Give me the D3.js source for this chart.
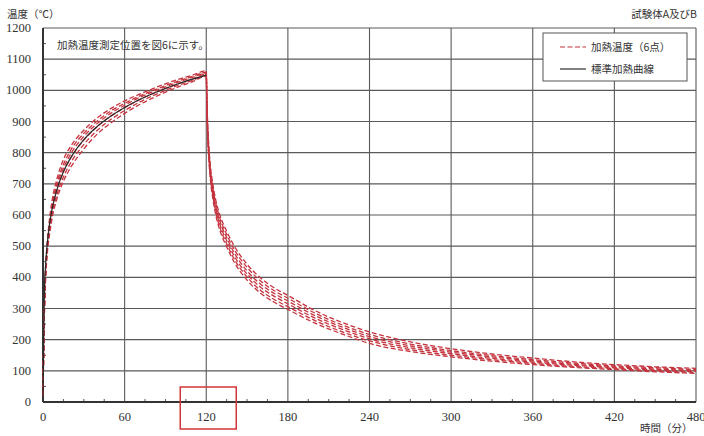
<!DOCTYPE html>
<html>
<head>
<meta charset="utf-8">
<script src="https://cdn.jsdelivr.net/npm/d3@7"></script>
<style>
  body { margin: 0; background: #fff; }
  svg { display: block; }
  .tick-lbl { font-family: "Liberation Serif", "DejaVu Serif", serif; font-size: 12.5px; fill: #333; }
  .jp { font-family: "Noto Sans CJK JP", sans-serif; font-size: 10.5px; fill: #333; }
</style>
</head>
<body>
<div id="chart"></div>
<script>
// time axis (minutes) for the standard curve and for the heating part of the measured curves
var heatTimes = [0, 1, 2, 3, 5, 7, 10, 15, 20, 30, 40, 50, 60, 70, 80, 90, 100, 110, 120];
// cooling part of the measured curves
var coolTimes = [120.5, 121, 122, 123, 125, 127, 130, 135, 140, 150, 160, 170, 180, 200, 220, 240, 270, 300, 330, 360, 390, 420, 450, 480];

// 標準加熱曲線
var standardCurve = [20, 349, 445, 502, 576, 626, 678, 739, 781, 842, 885, 918, 945, 968, 988, 1006, 1022, 1036, 1049];

// 加熱温度（6点）: heating values then cooling values
var measured = [
  { heat: [20, 310, 440, 505, 595, 655, 712, 778, 818, 872, 912, 942, 966, 986, 1004, 1021, 1036, 1049, 1063],
    cool: [975, 900, 815, 760, 695, 648, 600, 548, 505, 442, 398, 366, 342, 293, 255, 225, 193, 171, 154, 141, 129, 120, 113, 108] },
  { heat: [20, 300, 430, 498, 585, 640, 698, 762, 805, 862, 902, 934, 958, 980, 998, 1015, 1031, 1045, 1058],
    cool: [965, 890, 805, 750, 685, 638, 590, 538, 494, 432, 388, 357, 333, 285, 247, 217, 186, 165, 149, 136, 125, 116, 110, 104] },
  { heat: [20, 295, 425, 492, 578, 632, 688, 750, 793, 852, 894, 927, 952, 975, 994, 1011, 1027, 1042, 1055],
    cool: [955, 880, 795, 740, 675, 628, 580, 528, 483, 421, 378, 348, 324, 277, 240, 210, 180, 160, 145, 132, 121, 113, 106, 101] },
  { heat: [20, 290, 418, 485, 568, 622, 676, 738, 780, 840, 884, 918, 944, 968, 988, 1006, 1022, 1037, 1052],
    cool: [945, 870, 787, 732, 666, 619, 570, 518, 473, 411, 368, 339, 315, 269, 233, 203, 174, 155, 140, 128, 118, 110, 103, 98] },
  { heat: [20, 285, 410, 478, 555, 610, 662, 722, 765, 826, 872, 907, 935, 960, 981, 1000, 1017, 1032, 1048],
    cool: [935, 862, 780, 724, 658, 610, 561, 508, 463, 401, 358, 329, 306, 261, 225, 196, 168, 150, 136, 124, 114, 107, 100, 95] },
  { heat: [20, 278, 400, 468, 542, 597, 648, 708, 750, 812, 860, 896, 926, 952, 974, 994, 1012, 1028, 1045],
    cool: [925, 852, 770, 715, 648, 600, 551, 498, 453, 391, 349, 320, 297, 253, 218, 188, 162, 145, 131, 120, 111, 104, 97, 92] }
];

var xTicks = [0, 60, 120, 180, 240, 300, 360, 420, 480];
var yTicks = [0, 100, 200, 300, 400, 500, 600, 700, 800, 900, 1000, 1100, 1200];

var svgWidth = 704, svgHeight = 436;
var margin = { top: 28, right: 8, bottom: 34, left: 43 };

var svg = d3.select("#chart").append("svg")
  .attr("width", svgWidth)
  .attr("height", svgHeight);

var xScale = d3.scaleLinear().domain([0, 480]).range([margin.left, svgWidth - margin.right]);
var yScale = d3.scaleLinear().domain([0, 1200]).range([svgHeight - margin.bottom, margin.top]);

var gridColor = "#5a5a5a";

// grid
svg.append("g").selectAll("line.h")
  .data(yTicks.slice(1))
  .enter().append("line")
  .attr("x1", xScale(0)).attr("x2", xScale(480))
  .attr("y1", d => yScale(d)).attr("y2", d => yScale(d))
  .attr("stroke", gridColor).attr("stroke-width", 1.1);

svg.append("g").selectAll("line.v")
  .data(xTicks.slice(1))
  .enter().append("line")
  .attr("x1", d => xScale(d)).attr("x2", d => xScale(d))
  .attr("y1", yScale(0)).attr("y2", yScale(1200))
  .attr("stroke", gridColor).attr("stroke-width", 1.1);

// minor ticks
svg.append("g").selectAll("line")
  .data(d3.range(15, 480, 15).filter(d => d % 60 !== 0))
  .enter().append("line")
  .attr("x1", d => xScale(d)).attr("x2", d => xScale(d))
  .attr("y1", yScale(0)).attr("y2", yScale(0) - 3)
  .attr("stroke", "#555");
svg.append("g").selectAll("line")
  .data(d3.range(50, 1200, 100))
  .enter().append("line")
  .attr("x1", xScale(0)).attr("x2", xScale(0) + 3)
  .attr("y1", d => yScale(d)).attr("y2", d => yScale(d))
  .attr("stroke", "#555");

// frame
svg.append("line")
  .attr("x1", xScale(0)).attr("x2", xScale(0))
  .attr("y1", yScale(0)).attr("y2", yScale(1200))
  .attr("stroke", "#333").attr("stroke-width", 2);
svg.append("line")
  .attr("x1", xScale(0)).attr("x2", xScale(480))
  .attr("y1", yScale(0)).attr("y2", yScale(0))
  .attr("stroke", "#333").attr("stroke-width", 2);

// tick labels
svg.append("g").selectAll("text")
  .data(yTicks)
  .enter().append("text")
  .attr("class", "tick-lbl")
  .attr("x", 31)
  .attr("y", d => yScale(d) + 4)
  .attr("text-anchor", "end")
  .text(d => d);

svg.append("g").selectAll("text")
  .data(xTicks)
  .enter().append("text")
  .attr("class", "tick-lbl")
  .attr("x", d => xScale(d))
  .attr("y", 421)
  .attr("text-anchor", "middle")
  .text(d => d);

var line = d3.line()
  .x(d => xScale(d[0]))
  .y(d => yScale(d[1]))
  .curve(d3.curveMonotoneX);

// measured curves
measured.forEach(s => {
  var pts = heatTimes.map((t, i) => [t, s.heat[i]])
    .concat(coolTimes.map((t, i) => [t, s.cool[i]]));
  svg.append("path")
    .datum(pts)
    .attr("d", line)
    .attr("fill", "none")
    .attr("stroke", "#c4343e")
    .attr("stroke-width", 1.3)
    .attr("stroke-dasharray", "5,2.5");
});

// standard curve
svg.append("path")
  .datum(heatTimes.map((t, i) => [t, standardCurve[i]]))
  .attr("d", line)
  .attr("fill", "none")
  .attr("stroke", "#2a2a2a")
  .attr("stroke-width", 1.2);

// legend
var legend = svg.append("g");
legend.append("rect")
  .attr("x", 543).attr("y", 33)
  .attr("width", 144).attr("height", 48)
  .attr("fill", "#fff").attr("stroke", "#555").attr("stroke-width", 1);
legend.append("line")
  .attr("x1", 560).attr("x2", 586).attr("y1", 47).attr("y2", 47)
  .attr("stroke", "#c4343e").attr("stroke-width", 1.2).attr("stroke-dasharray", "5,2.5");
legend.append("text").attr("class", "jp")
  .attr("x", 591).attr("y", 51).text("加熱温度（6点）");
legend.append("line")
  .attr("x1", 560).attr("x2", 586).attr("y1", 69).attr("y2", 69)
  .attr("stroke", "#2a2a2a").attr("stroke-width", 1.2);
legend.append("text").attr("class", "jp")
  .attr("x", 591).attr("y", 73).text("標準加熱曲線");

// texts
svg.append("text").attr("class", "jp")
  .attr("x", 57).attr("y", 49).text("加熱温度測定位置を図6に示す。");
svg.append("text").attr("class", "jp")
  .attr("x", 7).attr("y", 18).text("温度（℃）");
svg.append("text").attr("class", "jp")
  .attr("x", 697).attr("y", 18).attr("text-anchor", "end").text("試験体A及びB");
svg.append("text").attr("class", "jp")
  .attr("x", 640).attr("y", 432).text("時間（分）");

// red highlight box around 120
svg.append("rect")
  .attr("x", xScale(120) - 26).attr("y", 387)
  .attr("width", 56).attr("height", 42)
  .attr("fill", "none")
  .attr("stroke", "#d0363a")
  .attr("stroke-width", 1.5);
</script>
</body>
</html>
